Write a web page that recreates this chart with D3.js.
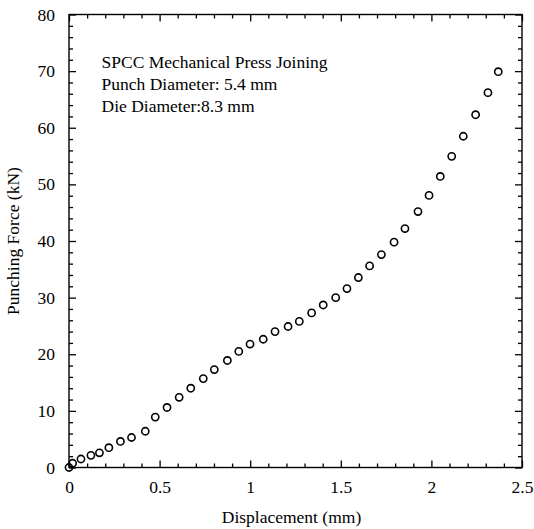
<!DOCTYPE html>
<html>
<head>
<meta charset="utf-8">
<script src="https://cdn.jsdelivr.net/npm/d3@7"></script>
<style>
  html, body { margin: 0; padding: 0; background: #fff; }
  svg text { font-family: "Liberation Serif", "Times New Roman", serif; fill: #000; }
</style>
</head>
<body>
<svg id="chart" width="534" height="529"></svg>
<script>
// ---- data ----
const displacement = [0.00, 0.02, 0.066, 0.121, 0.168, 0.22, 0.284, 0.345, 0.421, 0.476,
  0.541, 0.608, 0.672, 0.741, 0.802, 0.874, 0.937, 0.999, 1.072, 1.137,
  1.209, 1.271, 1.339, 1.403, 1.472, 1.534, 1.597, 1.659, 1.724, 1.794,
  1.854, 1.926, 1.987, 2.049, 2.112, 2.176, 2.244, 2.312, 2.369];
const force = [0.0, 0.75, 1.5, 2.15, 2.6, 3.5, 4.6, 5.3, 6.4, 8.9,
  10.6, 12.4, 14.0, 15.7, 17.3, 18.9, 20.5, 21.8, 22.65, 24.0,
  24.9, 25.8, 27.3, 28.7, 30.0, 31.6, 33.55, 35.6, 37.6, 39.8,
  42.2, 45.2, 48.05, 51.4, 54.95, 58.5, 62.3, 66.2, 69.9];
const xMajorTicks = [0, 0.5, 1, 1.5, 2, 2.5];
const xTickLabels = ["0", "0.5", "1", "1.5", "2", "2.5"];
const yMajorTicks = [0, 10, 20, 30, 40, 50, 60, 70, 80];
const yTickLabels = ["0", "10", "20", "30", "40", "50", "60", "70", "80"];
const annotation = ["SPCC Mechanical Press Joining", "Punch Diameter: 5.4 mm", "Die Diameter:8.3 mm"];
const xTitle = "Displacement (mm)";
const yTitle = "Punching Force (kN)";

// ---- layout ----
const L = 69, T = 14.5, R = 522, B = 467.5;
const svg = d3.select("#chart");
const x = d3.scaleLinear().domain([0, 2.5]).range([L, R]);
const y = d3.scaleLinear().domain([0, 80]).range([B, T]);
const fs = 17.5;

const xMinor = d3.range(0, 26).map(i => i / 10).filter(v => !xMajorTicks.some(m => Math.abs(m - v) < 1e-9));
const yMinor = d3.range(0, 41).map(i => i * 2).filter(v => !yMajorTicks.includes(v));

function styleAxis(g) {
  g.select(".domain").remove();
  g.selectAll("line").attr("stroke", "#000").attr("stroke-width", 1.3);
  g.selectAll("text").style("font-size", fs + "px").attr("fill", "#000");
}

// bottom
svg.append("g").attr("transform", `translate(0,${B})`)
  .call(d3.axisBottom(x).tickValues(xMajorTicks).tickSize(-7).tickPadding(13)
    .tickFormat((d, i) => xTickLabels[i])).call(styleAxis);
svg.append("g").attr("transform", `translate(0,${B})`)
  .call(d3.axisBottom(x).tickValues(xMinor).tickSize(-4).tickFormat("")).call(styleAxis);
// top
svg.append("g").attr("transform", `translate(0,${T})`)
  .call(d3.axisTop(x).tickValues(xMajorTicks).tickSize(-7).tickFormat("")).call(styleAxis);
svg.append("g").attr("transform", `translate(0,${T})`)
  .call(d3.axisTop(x).tickValues(xMinor).tickSize(-4).tickFormat("")).call(styleAxis);
// left
svg.append("g").attr("transform", `translate(${L},0)`)
  .call(d3.axisLeft(y).tickValues(yMajorTicks).tickSize(-7).tickPadding(14)
    .tickFormat((d, i) => yTickLabels[i])).call(styleAxis);
svg.append("g").attr("transform", `translate(${L},0)`)
  .call(d3.axisLeft(y).tickValues(yMinor).tickSize(-4).tickFormat("")).call(styleAxis);
// right
svg.append("g").attr("transform", `translate(${R},0)`)
  .call(d3.axisRight(y).tickValues(yMajorTicks).tickSize(-7).tickFormat("")).call(styleAxis);
svg.append("g").attr("transform", `translate(${R},0)`)
  .call(d3.axisRight(y).tickValues(yMinor).tickSize(-4).tickFormat("")).call(styleAxis);

// frame
svg.append("rect").attr("x", L).attr("y", T).attr("width", R - L).attr("height", B - T)
  .attr("fill", "none").attr("stroke", "#000").attr("stroke-width", 1.4);

// points
svg.append("g").selectAll("circle")
  .data(displacement.map((d, i) => [d, force[i]]))
  .join("circle")
  .attr("cx", d => x(d[0])).attr("cy", d => y(d[1])).attr("r", 3.6)
  .attr("fill", "none").attr("stroke", "#000").attr("stroke-width", 1.6);

// annotation
svg.append("g").selectAll("text").data(annotation).join("text")
  .attr("x", 101.5).attr("y", (d, i) => 68 + i * 22)
  .style("font-size", fs + "px").text(d => d);

// titles
svg.append("text").attr("x", (L + R) / 2 - 4).attr("y", 523).attr("text-anchor", "middle")
  .style("font-size", fs + "px").text(xTitle);
svg.append("text").attr("transform", `translate(19,${(T + B) / 2}) rotate(-90)`)
  .attr("text-anchor", "middle").style("font-size", fs + "px").text(yTitle);
</script>
</body>
</html>
